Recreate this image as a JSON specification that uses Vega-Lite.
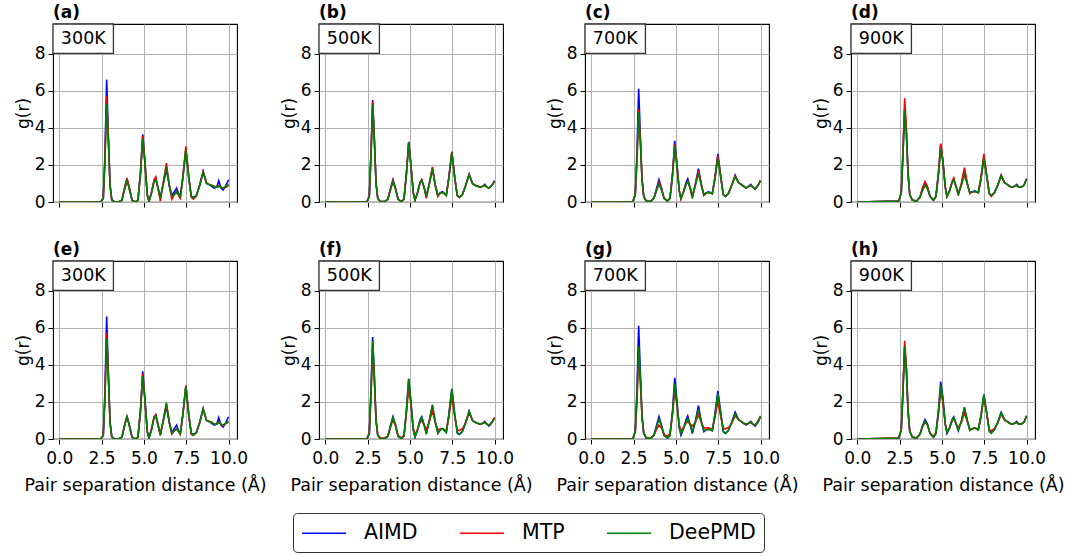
{
  "$schema": "https://vega.github.io/schema/vega-lite/v6.json",
  "background": "white",
  "padding": {"left": 13, "top": 4, "right": 0, "bottom": 5},
  "spacing": 30,
  "data": {"name": "rdf"},
  "datasets": {
    "rdf": [
      {"p":"a","T":"300K"},{"p":"b","T":"500K"},{"p":"c","T":"700K"},{"p":"d","T":"900K"},
      {"p":"e","T":"300K"},{"p":"f","T":"500K"},{"p":"g","T":"700K"},{"p":"h","T":"900K"},

      {"p":"a","r":0,"AIMD":0,"MTP":0,"DeePMD":0},
      {"p":"a","r":2.45,"AIMD":0,"MTP":0,"DeePMD":0},
      {"p":"a","r":2.6,"AIMD":0.2,"MTP":0.2,"DeePMD":0.2},
      {"p":"a","r":2.7,"AIMD":2.6,"MTP":2.3,"DeePMD":2.2},
      {"p":"a","r":2.8,"AIMD":6.6,"MTP":5.7,"DeePMD":5.3},
      {"p":"a","r":2.9,"AIMD":3.6,"MTP":3.4,"DeePMD":3.3},
      {"p":"a","r":3.0,"AIMD":0.9,"MTP":0.9,"DeePMD":0.9},
      {"p":"a","r":3.1,"AIMD":0.15,"MTP":0.1,"DeePMD":0.1},
      {"p":"a","r":3.25,"AIMD":0.02,"MTP":0,"DeePMD":0},
      {"p":"a","r":3.5,"AIMD":0,"MTP":0,"DeePMD":0},
      {"p":"a","r":3.7,"AIMD":0.1,"MTP":0.1,"DeePMD":0.1},
      {"p":"a","r":3.85,"AIMD":0.7,"MTP":0.75,"DeePMD":0.65},
      {"p":"a","r":4.0,"AIMD":1.25,"MTP":1.3,"DeePMD":1.15},
      {"p":"a","r":4.15,"AIMD":0.7,"MTP":0.75,"DeePMD":0.65},
      {"p":"a","r":4.3,"AIMD":0.1,"MTP":0.1,"DeePMD":0.1},
      {"p":"a","r":4.5,"AIMD":0,"MTP":0,"DeePMD":0},
      {"p":"a","r":4.65,"AIMD":0.1,"MTP":0.1,"DeePMD":0.1},
      {"p":"a","r":4.8,"AIMD":1.6,"MTP":1.6,"DeePMD":1.5},
      {"p":"a","r":4.93,"AIMD":3.65,"MTP":3.55,"DeePMD":3.4},
      {"p":"a","r":5.05,"AIMD":2.3,"MTP":2.3,"DeePMD":2.2},
      {"p":"a","r":5.2,"AIMD":0.4,"MTP":0.35,"DeePMD":0.4},
      {"p":"a","r":5.3,"AIMD":0.05,"MTP":0,"DeePMD":0.05},
      {"p":"a","r":5.45,"AIMD":0.5,"MTP":0.5,"DeePMD":0.5},
      {"p":"a","r":5.6,"AIMD":1.15,"MTP":1.2,"DeePMD":1.1},
      {"p":"a","r":5.7,"AIMD":1.3,"MTP":1.35,"DeePMD":1.2},
      {"p":"a","r":5.85,"AIMD":0.7,"MTP":0.65,"DeePMD":0.7},
      {"p":"a","r":5.97,"AIMD":0.25,"MTP":0.05,"DeePMD":0.2},
      {"p":"a","r":6.15,"AIMD":1.0,"MTP":1.1,"DeePMD":1.0},
      {"p":"a","r":6.33,"AIMD":1.75,"MTP":2.1,"DeePMD":1.9},
      {"p":"a","r":6.5,"AIMD":0.9,"MTP":0.9,"DeePMD":0.9},
      {"p":"a","r":6.65,"AIMD":0.35,"MTP":0.15,"DeePMD":0.3},
      {"p":"a","r":6.8,"AIMD":0.55,"MTP":0.4,"DeePMD":0.4},
      {"p":"a","r":6.93,"AIMD":0.75,"MTP":0.6,"DeePMD":0.55},
      {"p":"a","r":7.05,"AIMD":0.45,"MTP":0.35,"DeePMD":0.4},
      {"p":"a","r":7.15,"AIMD":0.3,"MTP":0.2,"DeePMD":0.3},
      {"p":"a","r":7.3,"AIMD":1.3,"MTP":1.35,"DeePMD":1.3},
      {"p":"a","r":7.48,"AIMD":2.85,"MTP":3.0,"DeePMD":2.8},
      {"p":"a","r":7.65,"AIMD":1.3,"MTP":1.35,"DeePMD":1.3},
      {"p":"a","r":7.8,"AIMD":0.3,"MTP":0.25,"DeePMD":0.3},
      {"p":"a","r":7.92,"AIMD":0.25,"MTP":0.15,"DeePMD":0.2},
      {"p":"a","r":8.1,"AIMD":0.35,"MTP":0.3,"DeePMD":0.35},
      {"p":"a","r":8.3,"AIMD":0.9,"MTP":0.95,"DeePMD":0.9},
      {"p":"a","r":8.5,"AIMD":1.65,"MTP":1.65,"DeePMD":1.6},
      {"p":"a","r":8.7,"AIMD":1.0,"MTP":1.05,"DeePMD":1.0},
      {"p":"a","r":8.85,"AIMD":0.95,"MTP":0.95,"DeePMD":0.95},
      {"p":"a","r":9.0,"AIMD":0.85,"MTP":0.9,"DeePMD":0.9},
      {"p":"a","r":9.15,"AIMD":0.75,"MTP":0.85,"DeePMD":0.8},
      {"p":"a","r":9.3,"AIMD":0.8,"MTP":0.8,"DeePMD":0.8},
      {"p":"a","r":9.42,"AIMD":1.15,"MTP":0.85,"DeePMD":0.85},
      {"p":"a","r":9.55,"AIMD":0.75,"MTP":0.8,"DeePMD":0.8},
      {"p":"a","r":9.68,"AIMD":0.65,"MTP":0.75,"DeePMD":0.75},
      {"p":"a","r":9.85,"AIMD":0.9,"MTP":0.8,"DeePMD":0.85},
      {"p":"a","r":10.0,"AIMD":1.2,"MTP":0.9,"DeePMD":0.95},

      {"p":"e","r":0,"AIMD":0,"MTP":0,"DeePMD":0},
      {"p":"e","r":2.45,"AIMD":0,"MTP":0,"DeePMD":0},
      {"p":"e","r":2.6,"AIMD":0.2,"MTP":0.2,"DeePMD":0.2},
      {"p":"e","r":2.7,"AIMD":2.6,"MTP":2.3,"DeePMD":2.2},
      {"p":"e","r":2.8,"AIMD":6.6,"MTP":5.7,"DeePMD":5.4},
      {"p":"e","r":2.9,"AIMD":3.6,"MTP":3.4,"DeePMD":3.3},
      {"p":"e","r":3.0,"AIMD":0.9,"MTP":0.9,"DeePMD":0.9},
      {"p":"e","r":3.1,"AIMD":0.15,"MTP":0.1,"DeePMD":0.1},
      {"p":"e","r":3.25,"AIMD":0.02,"MTP":0,"DeePMD":0},
      {"p":"e","r":3.5,"AIMD":0,"MTP":0,"DeePMD":0},
      {"p":"e","r":3.7,"AIMD":0.1,"MTP":0.1,"DeePMD":0.1},
      {"p":"e","r":3.85,"AIMD":0.7,"MTP":0.7,"DeePMD":0.7},
      {"p":"e","r":4.0,"AIMD":1.25,"MTP":1.2,"DeePMD":1.2},
      {"p":"e","r":4.15,"AIMD":0.7,"MTP":0.7,"DeePMD":0.7},
      {"p":"e","r":4.3,"AIMD":0.1,"MTP":0.1,"DeePMD":0.1},
      {"p":"e","r":4.5,"AIMD":0,"MTP":0,"DeePMD":0},
      {"p":"e","r":4.65,"AIMD":0.1,"MTP":0.1,"DeePMD":0.1},
      {"p":"e","r":4.8,"AIMD":1.6,"MTP":1.55,"DeePMD":1.5},
      {"p":"e","r":4.93,"AIMD":3.65,"MTP":3.5,"DeePMD":3.4},
      {"p":"e","r":5.05,"AIMD":2.3,"MTP":2.25,"DeePMD":2.2},
      {"p":"e","r":5.2,"AIMD":0.4,"MTP":0.4,"DeePMD":0.4},
      {"p":"e","r":5.3,"AIMD":0.05,"MTP":0.05,"DeePMD":0.05},
      {"p":"e","r":5.45,"AIMD":0.5,"MTP":0.55,"DeePMD":0.5},
      {"p":"e","r":5.6,"AIMD":1.15,"MTP":1.2,"DeePMD":1.15},
      {"p":"e","r":5.7,"AIMD":1.3,"MTP":1.3,"DeePMD":1.25},
      {"p":"e","r":5.85,"AIMD":0.7,"MTP":0.7,"DeePMD":0.7},
      {"p":"e","r":5.97,"AIMD":0.25,"MTP":0.2,"DeePMD":0.2},
      {"p":"e","r":6.15,"AIMD":1.0,"MTP":1.05,"DeePMD":1.05},
      {"p":"e","r":6.33,"AIMD":1.75,"MTP":1.9,"DeePMD":1.95},
      {"p":"e","r":6.5,"AIMD":0.9,"MTP":0.9,"DeePMD":0.9},
      {"p":"e","r":6.65,"AIMD":0.35,"MTP":0.25,"DeePMD":0.3},
      {"p":"e","r":6.8,"AIMD":0.55,"MTP":0.45,"DeePMD":0.45},
      {"p":"e","r":6.93,"AIMD":0.75,"MTP":0.55,"DeePMD":0.55},
      {"p":"e","r":7.05,"AIMD":0.45,"MTP":0.4,"DeePMD":0.4},
      {"p":"e","r":7.15,"AIMD":0.3,"MTP":0.25,"DeePMD":0.3},
      {"p":"e","r":7.3,"AIMD":1.3,"MTP":1.3,"DeePMD":1.3},
      {"p":"e","r":7.48,"AIMD":2.85,"MTP":2.9,"DeePMD":2.85},
      {"p":"e","r":7.65,"AIMD":1.3,"MTP":1.3,"DeePMD":1.3},
      {"p":"e","r":7.8,"AIMD":0.3,"MTP":0.25,"DeePMD":0.3},
      {"p":"e","r":7.92,"AIMD":0.25,"MTP":0.2,"DeePMD":0.2},
      {"p":"e","r":8.1,"AIMD":0.35,"MTP":0.35,"DeePMD":0.35},
      {"p":"e","r":8.3,"AIMD":0.9,"MTP":0.9,"DeePMD":0.9},
      {"p":"e","r":8.5,"AIMD":1.65,"MTP":1.6,"DeePMD":1.6},
      {"p":"e","r":8.7,"AIMD":1.0,"MTP":1.0,"DeePMD":1.0},
      {"p":"e","r":8.85,"AIMD":0.95,"MTP":0.95,"DeePMD":0.95},
      {"p":"e","r":9.0,"AIMD":0.85,"MTP":0.9,"DeePMD":0.9},
      {"p":"e","r":9.15,"AIMD":0.75,"MTP":0.8,"DeePMD":0.8},
      {"p":"e","r":9.3,"AIMD":0.8,"MTP":0.8,"DeePMD":0.8},
      {"p":"e","r":9.42,"AIMD":1.15,"MTP":0.9,"DeePMD":0.9},
      {"p":"e","r":9.55,"AIMD":0.75,"MTP":0.8,"DeePMD":0.8},
      {"p":"e","r":9.68,"AIMD":0.65,"MTP":0.7,"DeePMD":0.75},
      {"p":"e","r":9.85,"AIMD":0.9,"MTP":0.85,"DeePMD":0.85},
      {"p":"e","r":10.0,"AIMD":1.2,"MTP":0.9,"DeePMD":0.95},

      {"p":"b","r":0,"AIMD":0,"MTP":0,"DeePMD":0},
      {"p":"b","r":2.45,"AIMD":0,"MTP":0,"DeePMD":0},
      {"p":"b","r":2.6,"AIMD":0.3,"MTP":0.3,"DeePMD":0.3},
      {"p":"b","r":2.7,"AIMD":2.6,"MTP":2.5,"DeePMD":2.4},
      {"p":"b","r":2.8,"AIMD":5.5,"MTP":5.4,"DeePMD":5.25},
      {"p":"b","r":2.9,"AIMD":3.4,"MTP":3.4,"DeePMD":3.3},
      {"p":"b","r":3.0,"AIMD":1.0,"MTP":1.0,"DeePMD":1.0},
      {"p":"b","r":3.1,"AIMD":0.2,"MTP":0.2,"DeePMD":0.2},
      {"p":"b","r":3.25,"AIMD":0.02,"MTP":0.02,"DeePMD":0.02},
      {"p":"b","r":3.5,"AIMD":0.02,"MTP":0.02,"DeePMD":0.02},
      {"p":"b","r":3.7,"AIMD":0.15,"MTP":0.15,"DeePMD":0.15},
      {"p":"b","r":3.85,"AIMD":0.7,"MTP":0.7,"DeePMD":0.65},
      {"p":"b","r":4.0,"AIMD":1.2,"MTP":1.15,"DeePMD":1.1},
      {"p":"b","r":4.15,"AIMD":0.75,"MTP":0.7,"DeePMD":0.7},
      {"p":"b","r":4.3,"AIMD":0.15,"MTP":0.15,"DeePMD":0.15},
      {"p":"b","r":4.5,"AIMD":0.02,"MTP":0.02,"DeePMD":0.02},
      {"p":"b","r":4.65,"AIMD":0.15,"MTP":0.15,"DeePMD":0.15},
      {"p":"b","r":4.8,"AIMD":1.6,"MTP":1.6,"DeePMD":1.55},
      {"p":"b","r":4.93,"AIMD":3.25,"MTP":3.2,"DeePMD":3.2},
      {"p":"b","r":5.05,"AIMD":2.1,"MTP":2.1,"DeePMD":2.1},
      {"p":"b","r":5.2,"AIMD":0.5,"MTP":0.5,"DeePMD":0.5},
      {"p":"b","r":5.3,"AIMD":0.1,"MTP":0.1,"DeePMD":0.1},
      {"p":"b","r":5.45,"AIMD":0.5,"MTP":0.5,"DeePMD":0.5},
      {"p":"b","r":5.6,"AIMD":1.05,"MTP":1.05,"DeePMD":1.05},
      {"p":"b","r":5.7,"AIMD":1.2,"MTP":1.2,"DeePMD":1.15},
      {"p":"b","r":5.85,"AIMD":0.75,"MTP":0.75,"DeePMD":0.75},
      {"p":"b","r":5.97,"AIMD":0.3,"MTP":0.2,"DeePMD":0.3},
      {"p":"b","r":6.15,"AIMD":1.0,"MTP":1.0,"DeePMD":1.0},
      {"p":"b","r":6.33,"AIMD":1.8,"MTP":1.9,"DeePMD":1.8},
      {"p":"b","r":6.5,"AIMD":0.9,"MTP":0.9,"DeePMD":0.9},
      {"p":"b","r":6.65,"AIMD":0.35,"MTP":0.3,"DeePMD":0.35},
      {"p":"b","r":6.8,"AIMD":0.5,"MTP":0.5,"DeePMD":0.5},
      {"p":"b","r":6.93,"AIMD":0.55,"MTP":0.5,"DeePMD":0.5},
      {"p":"b","r":7.05,"AIMD":0.45,"MTP":0.45,"DeePMD":0.45},
      {"p":"b","r":7.15,"AIMD":0.35,"MTP":0.35,"DeePMD":0.35},
      {"p":"b","r":7.3,"AIMD":1.3,"MTP":1.3,"DeePMD":1.3},
      {"p":"b","r":7.48,"AIMD":2.7,"MTP":2.7,"DeePMD":2.65},
      {"p":"b","r":7.65,"AIMD":1.3,"MTP":1.3,"DeePMD":1.3},
      {"p":"b","r":7.8,"AIMD":0.35,"MTP":0.35,"DeePMD":0.35},
      {"p":"b","r":7.92,"AIMD":0.25,"MTP":0.25,"DeePMD":0.25},
      {"p":"b","r":8.1,"AIMD":0.4,"MTP":0.4,"DeePMD":0.4},
      {"p":"b","r":8.3,"AIMD":0.9,"MTP":0.9,"DeePMD":0.9},
      {"p":"b","r":8.5,"AIMD":1.5,"MTP":1.5,"DeePMD":1.45},
      {"p":"b","r":8.7,"AIMD":1.0,"MTP":1.0,"DeePMD":1.0},
      {"p":"b","r":8.85,"AIMD":0.9,"MTP":0.9,"DeePMD":0.9},
      {"p":"b","r":9.0,"AIMD":0.85,"MTP":0.85,"DeePMD":0.85},
      {"p":"b","r":9.15,"AIMD":0.8,"MTP":0.8,"DeePMD":0.8},
      {"p":"b","r":9.3,"AIMD":0.85,"MTP":0.85,"DeePMD":0.85},
      {"p":"b","r":9.42,"AIMD":0.95,"MTP":0.9,"DeePMD":0.9},
      {"p":"b","r":9.55,"AIMD":0.8,"MTP":0.8,"DeePMD":0.8},
      {"p":"b","r":9.68,"AIMD":0.75,"MTP":0.75,"DeePMD":0.75},
      {"p":"b","r":9.85,"AIMD":0.9,"MTP":0.9,"DeePMD":0.9},
      {"p":"b","r":10.0,"AIMD":1.15,"MTP":1.1,"DeePMD":1.1},

      {"p":"f","r":0,"AIMD":0,"MTP":0,"DeePMD":0},
      {"p":"f","r":2.45,"AIMD":0,"MTP":0,"DeePMD":0},
      {"p":"f","r":2.6,"AIMD":0.3,"MTP":0.3,"DeePMD":0.3},
      {"p":"f","r":2.7,"AIMD":2.6,"MTP":2.3,"DeePMD":2.5},
      {"p":"f","r":2.8,"AIMD":5.5,"MTP":4.8,"DeePMD":5.3},
      {"p":"f","r":2.9,"AIMD":3.4,"MTP":3.1,"DeePMD":3.4},
      {"p":"f","r":3.0,"AIMD":1.0,"MTP":1.0,"DeePMD":1.0},
      {"p":"f","r":3.1,"AIMD":0.2,"MTP":0.25,"DeePMD":0.2},
      {"p":"f","r":3.25,"AIMD":0.02,"MTP":0.05,"DeePMD":0.02},
      {"p":"f","r":3.5,"AIMD":0.02,"MTP":0.05,"DeePMD":0.02},
      {"p":"f","r":3.7,"AIMD":0.15,"MTP":0.15,"DeePMD":0.15},
      {"p":"f","r":3.85,"AIMD":0.7,"MTP":0.6,"DeePMD":0.7},
      {"p":"f","r":4.0,"AIMD":1.2,"MTP":1.05,"DeePMD":1.15},
      {"p":"f","r":4.15,"AIMD":0.75,"MTP":0.7,"DeePMD":0.75},
      {"p":"f","r":4.3,"AIMD":0.15,"MTP":0.2,"DeePMD":0.15},
      {"p":"f","r":4.5,"AIMD":0.02,"MTP":0.05,"DeePMD":0.02},
      {"p":"f","r":4.65,"AIMD":0.15,"MTP":0.2,"DeePMD":0.15},
      {"p":"f","r":4.8,"AIMD":1.6,"MTP":1.4,"DeePMD":1.6},
      {"p":"f","r":4.93,"AIMD":3.25,"MTP":2.85,"DeePMD":3.25},
      {"p":"f","r":5.05,"AIMD":2.1,"MTP":1.9,"DeePMD":2.1},
      {"p":"f","r":5.2,"AIMD":0.5,"MTP":0.6,"DeePMD":0.5},
      {"p":"f","r":5.3,"AIMD":0.1,"MTP":0.25,"DeePMD":0.1},
      {"p":"f","r":5.45,"AIMD":0.5,"MTP":0.5,"DeePMD":0.5},
      {"p":"f","r":5.6,"AIMD":1.05,"MTP":0.9,"DeePMD":1.0},
      {"p":"f","r":5.7,"AIMD":1.2,"MTP":1.0,"DeePMD":1.15},
      {"p":"f","r":5.85,"AIMD":0.75,"MTP":0.75,"DeePMD":0.7},
      {"p":"f","r":5.97,"AIMD":0.3,"MTP":0.5,"DeePMD":0.25},
      {"p":"f","r":6.15,"AIMD":1.0,"MTP":0.95,"DeePMD":1.0},
      {"p":"f","r":6.33,"AIMD":1.8,"MTP":1.5,"DeePMD":1.85},
      {"p":"f","r":6.5,"AIMD":0.9,"MTP":0.9,"DeePMD":0.9},
      {"p":"f","r":6.65,"AIMD":0.35,"MTP":0.5,"DeePMD":0.3},
      {"p":"f","r":6.8,"AIMD":0.5,"MTP":0.55,"DeePMD":0.5},
      {"p":"f","r":6.93,"AIMD":0.55,"MTP":0.55,"DeePMD":0.55},
      {"p":"f","r":7.05,"AIMD":0.45,"MTP":0.5,"DeePMD":0.45},
      {"p":"f","r":7.15,"AIMD":0.35,"MTP":0.45,"DeePMD":0.35},
      {"p":"f","r":7.3,"AIMD":1.3,"MTP":1.15,"DeePMD":1.3},
      {"p":"f","r":7.48,"AIMD":2.7,"MTP":2.3,"DeePMD":2.7},
      {"p":"f","r":7.65,"AIMD":1.3,"MTP":1.2,"DeePMD":1.3},
      {"p":"f","r":7.8,"AIMD":0.35,"MTP":0.5,"DeePMD":0.3},
      {"p":"f","r":7.92,"AIMD":0.25,"MTP":0.45,"DeePMD":0.25},
      {"p":"f","r":8.1,"AIMD":0.4,"MTP":0.55,"DeePMD":0.4},
      {"p":"f","r":8.3,"AIMD":0.9,"MTP":0.9,"DeePMD":0.9},
      {"p":"f","r":8.5,"AIMD":1.5,"MTP":1.4,"DeePMD":1.5},
      {"p":"f","r":8.7,"AIMD":1.0,"MTP":1.0,"DeePMD":1.0},
      {"p":"f","r":8.85,"AIMD":0.9,"MTP":0.9,"DeePMD":0.9},
      {"p":"f","r":9.0,"AIMD":0.85,"MTP":0.85,"DeePMD":0.85},
      {"p":"f","r":9.15,"AIMD":0.8,"MTP":0.8,"DeePMD":0.8},
      {"p":"f","r":9.3,"AIMD":0.85,"MTP":0.85,"DeePMD":0.85},
      {"p":"f","r":9.42,"AIMD":0.95,"MTP":0.9,"DeePMD":0.9},
      {"p":"f","r":9.55,"AIMD":0.8,"MTP":0.8,"DeePMD":0.8},
      {"p":"f","r":9.68,"AIMD":0.7,"MTP":0.75,"DeePMD":0.75},
      {"p":"f","r":9.85,"AIMD":0.9,"MTP":0.9,"DeePMD":0.9},
      {"p":"f","r":10.0,"AIMD":1.15,"MTP":1.15,"DeePMD":1.1},

      {"p":"c","r":0,"AIMD":0,"MTP":0,"DeePMD":0},
      {"p":"c","r":2.45,"AIMD":0,"MTP":0,"DeePMD":0},
      {"p":"c","r":2.6,"AIMD":0.4,"MTP":0.4,"DeePMD":0.4},
      {"p":"c","r":2.7,"AIMD":2.7,"MTP":2.3,"DeePMD":2.2},
      {"p":"c","r":2.8,"AIMD":6.1,"MTP":5.0,"DeePMD":4.85},
      {"p":"c","r":2.9,"AIMD":3.6,"MTP":3.3,"DeePMD":3.2},
      {"p":"c","r":3.0,"AIMD":1.2,"MTP":1.2,"DeePMD":1.2},
      {"p":"c","r":3.1,"AIMD":0.3,"MTP":0.3,"DeePMD":0.3},
      {"p":"c","r":3.25,"AIMD":0.05,"MTP":0.05,"DeePMD":0.05},
      {"p":"c","r":3.5,"AIMD":0.02,"MTP":0.02,"DeePMD":0.02},
      {"p":"c","r":3.7,"AIMD":0.2,"MTP":0.2,"DeePMD":0.2},
      {"p":"c","r":3.85,"AIMD":0.7,"MTP":0.65,"DeePMD":0.6},
      {"p":"c","r":4.0,"AIMD":1.2,"MTP":1.05,"DeePMD":0.95},
      {"p":"c","r":4.15,"AIMD":0.75,"MTP":0.7,"DeePMD":0.65},
      {"p":"c","r":4.3,"AIMD":0.2,"MTP":0.2,"DeePMD":0.2},
      {"p":"c","r":4.5,"AIMD":0.05,"MTP":0.05,"DeePMD":0.05},
      {"p":"c","r":4.65,"AIMD":0.2,"MTP":0.2,"DeePMD":0.2},
      {"p":"c","r":4.8,"AIMD":1.5,"MTP":1.45,"DeePMD":1.4},
      {"p":"c","r":4.93,"AIMD":3.3,"MTP":3.1,"DeePMD":3.0},
      {"p":"c","r":5.05,"AIMD":2.2,"MTP":2.1,"DeePMD":2.0},
      {"p":"c","r":5.2,"AIMD":0.6,"MTP":0.6,"DeePMD":0.6},
      {"p":"c","r":5.3,"AIMD":0.2,"MTP":0.15,"DeePMD":0.2},
      {"p":"c","r":5.45,"AIMD":0.55,"MTP":0.55,"DeePMD":0.55},
      {"p":"c","r":5.6,"AIMD":1.05,"MTP":0.95,"DeePMD":0.95},
      {"p":"c","r":5.7,"AIMD":1.25,"MTP":1.1,"DeePMD":1.1},
      {"p":"c","r":5.85,"AIMD":0.75,"MTP":0.7,"DeePMD":0.75},
      {"p":"c","r":5.97,"AIMD":0.3,"MTP":0.2,"DeePMD":0.3},
      {"p":"c","r":6.15,"AIMD":0.95,"MTP":0.95,"DeePMD":0.9},
      {"p":"c","r":6.33,"AIMD":1.8,"MTP":1.7,"DeePMD":1.55},
      {"p":"c","r":6.5,"AIMD":0.95,"MTP":0.95,"DeePMD":0.9},
      {"p":"c","r":6.65,"AIMD":0.4,"MTP":0.35,"DeePMD":0.4},
      {"p":"c","r":6.8,"AIMD":0.5,"MTP":0.5,"DeePMD":0.5},
      {"p":"c","r":6.93,"AIMD":0.55,"MTP":0.5,"DeePMD":0.5},
      {"p":"c","r":7.05,"AIMD":0.5,"MTP":0.5,"DeePMD":0.5},
      {"p":"c","r":7.15,"AIMD":0.45,"MTP":0.45,"DeePMD":0.45},
      {"p":"c","r":7.3,"AIMD":1.3,"MTP":1.25,"DeePMD":1.2},
      {"p":"c","r":7.48,"AIMD":2.6,"MTP":2.5,"DeePMD":2.35},
      {"p":"c","r":7.65,"AIMD":1.4,"MTP":1.35,"DeePMD":1.3},
      {"p":"c","r":7.8,"AIMD":0.4,"MTP":0.4,"DeePMD":0.4},
      {"p":"c","r":7.92,"AIMD":0.3,"MTP":0.3,"DeePMD":0.3},
      {"p":"c","r":8.1,"AIMD":0.45,"MTP":0.45,"DeePMD":0.45},
      {"p":"c","r":8.3,"AIMD":0.9,"MTP":0.9,"DeePMD":0.9},
      {"p":"c","r":8.5,"AIMD":1.45,"MTP":1.4,"DeePMD":1.35},
      {"p":"c","r":8.7,"AIMD":1.05,"MTP":1.05,"DeePMD":1.05},
      {"p":"c","r":8.85,"AIMD":0.95,"MTP":0.95,"DeePMD":0.95},
      {"p":"c","r":9.0,"AIMD":0.85,"MTP":0.85,"DeePMD":0.85},
      {"p":"c","r":9.15,"AIMD":0.75,"MTP":0.75,"DeePMD":0.75},
      {"p":"c","r":9.3,"AIMD":0.85,"MTP":0.85,"DeePMD":0.85},
      {"p":"c","r":9.42,"AIMD":0.95,"MTP":0.9,"DeePMD":0.9},
      {"p":"c","r":9.55,"AIMD":0.8,"MTP":0.8,"DeePMD":0.8},
      {"p":"c","r":9.68,"AIMD":0.7,"MTP":0.7,"DeePMD":0.7},
      {"p":"c","r":9.85,"AIMD":0.9,"MTP":0.9,"DeePMD":0.9},
      {"p":"c","r":10.0,"AIMD":1.15,"MTP":1.15,"DeePMD":1.15},

      {"p":"g","r":0,"AIMD":0,"MTP":0,"DeePMD":0},
      {"p":"g","r":2.45,"AIMD":0,"MTP":0,"DeePMD":0},
      {"p":"g","r":2.6,"AIMD":0.4,"MTP":0.4,"DeePMD":0.4},
      {"p":"g","r":2.7,"AIMD":2.7,"MTP":2.0,"DeePMD":2.3},
      {"p":"g","r":2.8,"AIMD":6.1,"MTP":4.4,"DeePMD":5.0},
      {"p":"g","r":2.9,"AIMD":3.6,"MTP":3.0,"DeePMD":3.3},
      {"p":"g","r":3.0,"AIMD":1.2,"MTP":1.2,"DeePMD":1.2},
      {"p":"g","r":3.1,"AIMD":0.3,"MTP":0.35,"DeePMD":0.3},
      {"p":"g","r":3.25,"AIMD":0.05,"MTP":0.05,"DeePMD":0.05},
      {"p":"g","r":3.5,"AIMD":0.02,"MTP":0.05,"DeePMD":0.02},
      {"p":"g","r":3.7,"AIMD":0.2,"MTP":0.2,"DeePMD":0.2},
      {"p":"g","r":3.85,"AIMD":0.7,"MTP":0.5,"DeePMD":0.65},
      {"p":"g","r":4.0,"AIMD":1.2,"MTP":0.75,"DeePMD":1.05},
      {"p":"g","r":4.15,"AIMD":0.75,"MTP":0.6,"DeePMD":0.7},
      {"p":"g","r":4.3,"AIMD":0.2,"MTP":0.25,"DeePMD":0.2},
      {"p":"g","r":4.5,"AIMD":0.05,"MTP":0.15,"DeePMD":0.05},
      {"p":"g","r":4.65,"AIMD":0.2,"MTP":0.3,"DeePMD":0.2},
      {"p":"g","r":4.8,"AIMD":1.5,"MTP":1.3,"DeePMD":1.4},
      {"p":"g","r":4.93,"AIMD":3.3,"MTP":2.6,"DeePMD":3.0},
      {"p":"g","r":5.05,"AIMD":2.2,"MTP":1.9,"DeePMD":2.0},
      {"p":"g","r":5.2,"AIMD":0.6,"MTP":0.75,"DeePMD":0.6},
      {"p":"g","r":5.3,"AIMD":0.2,"MTP":0.45,"DeePMD":0.3},
      {"p":"g","r":5.45,"AIMD":0.55,"MTP":0.6,"DeePMD":0.6},
      {"p":"g","r":5.6,"AIMD":1.05,"MTP":0.85,"DeePMD":0.95},
      {"p":"g","r":5.7,"AIMD":1.25,"MTP":0.95,"DeePMD":1.1},
      {"p":"g","r":5.85,"AIMD":0.75,"MTP":0.8,"DeePMD":0.75},
      {"p":"g","r":5.97,"AIMD":0.3,"MTP":0.7,"DeePMD":0.4},
      {"p":"g","r":6.15,"AIMD":0.95,"MTP":0.9,"DeePMD":0.95},
      {"p":"g","r":6.33,"AIMD":1.8,"MTP":1.3,"DeePMD":1.6},
      {"p":"g","r":6.5,"AIMD":0.95,"MTP":0.9,"DeePMD":0.9},
      {"p":"g","r":6.65,"AIMD":0.4,"MTP":0.6,"DeePMD":0.45},
      {"p":"g","r":6.8,"AIMD":0.5,"MTP":0.6,"DeePMD":0.5},
      {"p":"g","r":6.93,"AIMD":0.55,"MTP":0.6,"DeePMD":0.5},
      {"p":"g","r":7.05,"AIMD":0.5,"MTP":0.55,"DeePMD":0.5},
      {"p":"g","r":7.15,"AIMD":0.45,"MTP":0.55,"DeePMD":0.45},
      {"p":"g","r":7.3,"AIMD":1.3,"MTP":1.1,"DeePMD":1.25},
      {"p":"g","r":7.48,"AIMD":2.6,"MTP":2.05,"DeePMD":2.45},
      {"p":"g","r":7.65,"AIMD":1.4,"MTP":1.2,"DeePMD":1.35},
      {"p":"g","r":7.8,"AIMD":0.4,"MTP":0.6,"DeePMD":0.4},
      {"p":"g","r":7.92,"AIMD":0.3,"MTP":0.55,"DeePMD":0.3},
      {"p":"g","r":8.1,"AIMD":0.45,"MTP":0.6,"DeePMD":0.45},
      {"p":"g","r":8.3,"AIMD":0.9,"MTP":0.85,"DeePMD":0.9},
      {"p":"g","r":8.5,"AIMD":1.45,"MTP":1.25,"DeePMD":1.35},
      {"p":"g","r":8.7,"AIMD":1.05,"MTP":1.05,"DeePMD":1.05},
      {"p":"g","r":8.85,"AIMD":0.95,"MTP":0.95,"DeePMD":0.95},
      {"p":"g","r":9.0,"AIMD":0.85,"MTP":0.85,"DeePMD":0.85},
      {"p":"g","r":9.15,"AIMD":0.75,"MTP":0.8,"DeePMD":0.8},
      {"p":"g","r":9.3,"AIMD":0.85,"MTP":0.85,"DeePMD":0.85},
      {"p":"g","r":9.42,"AIMD":0.95,"MTP":0.9,"DeePMD":0.9},
      {"p":"g","r":9.55,"AIMD":0.8,"MTP":0.8,"DeePMD":0.8},
      {"p":"g","r":9.68,"AIMD":0.7,"MTP":0.75,"DeePMD":0.75},
      {"p":"g","r":9.85,"AIMD":0.9,"MTP":0.95,"DeePMD":0.95},
      {"p":"g","r":10.0,"AIMD":1.2,"MTP":1.2,"DeePMD":1.25},

      {"p":"d","r":0,"AIMD":0,"MTP":0,"DeePMD":0},
      {"p":"d","r":2.45,"AIMD":0.05,"MTP":0.05,"DeePMD":0.05},
      {"p":"d","r":2.6,"AIMD":0.5,"MTP":0.5,"DeePMD":0.5},
      {"p":"d","r":2.7,"AIMD":2.6,"MTP":2.8,"DeePMD":2.5},
      {"p":"d","r":2.8,"AIMD":5.0,"MTP":5.6,"DeePMD":4.95},
      {"p":"d","r":2.9,"AIMD":3.8,"MTP":4.0,"DeePMD":3.7},
      {"p":"d","r":3.0,"AIMD":1.5,"MTP":1.6,"DeePMD":1.5},
      {"p":"d","r":3.1,"AIMD":0.4,"MTP":0.4,"DeePMD":0.4},
      {"p":"d","r":3.25,"AIMD":0.1,"MTP":0.1,"DeePMD":0.1},
      {"p":"d","r":3.5,"AIMD":0.05,"MTP":0.05,"DeePMD":0.05},
      {"p":"d","r":3.7,"AIMD":0.25,"MTP":0.25,"DeePMD":0.25},
      {"p":"d","r":3.85,"AIMD":0.7,"MTP":0.75,"DeePMD":0.6},
      {"p":"d","r":4.0,"AIMD":1.05,"MTP":1.1,"DeePMD":0.9},
      {"p":"d","r":4.15,"AIMD":0.8,"MTP":0.8,"DeePMD":0.7},
      {"p":"d","r":4.3,"AIMD":0.3,"MTP":0.3,"DeePMD":0.3},
      {"p":"d","r":4.5,"AIMD":0.1,"MTP":0.1,"DeePMD":0.1},
      {"p":"d","r":4.65,"AIMD":0.3,"MTP":0.3,"DeePMD":0.3},
      {"p":"d","r":4.8,"AIMD":1.6,"MTP":1.6,"DeePMD":1.5},
      {"p":"d","r":4.93,"AIMD":3.1,"MTP":3.15,"DeePMD":2.85},
      {"p":"d","r":5.05,"AIMD":2.3,"MTP":2.3,"DeePMD":2.2},
      {"p":"d","r":5.2,"AIMD":0.8,"MTP":0.8,"DeePMD":0.8},
      {"p":"d","r":5.3,"AIMD":0.3,"MTP":0.3,"DeePMD":0.3},
      {"p":"d","r":5.45,"AIMD":0.6,"MTP":0.6,"DeePMD":0.6},
      {"p":"d","r":5.6,"AIMD":1.05,"MTP":1.1,"DeePMD":1.05},
      {"p":"d","r":5.7,"AIMD":1.2,"MTP":1.3,"DeePMD":1.2},
      {"p":"d","r":5.85,"AIMD":0.8,"MTP":0.8,"DeePMD":0.8},
      {"p":"d","r":5.97,"AIMD":0.45,"MTP":0.35,"DeePMD":0.45},
      {"p":"d","r":6.15,"AIMD":0.95,"MTP":1.0,"DeePMD":0.9},
      {"p":"d","r":6.33,"AIMD":1.7,"MTP":1.85,"DeePMD":1.45},
      {"p":"d","r":6.5,"AIMD":1.0,"MTP":1.0,"DeePMD":0.95},
      {"p":"d","r":6.65,"AIMD":0.5,"MTP":0.45,"DeePMD":0.5},
      {"p":"d","r":6.8,"AIMD":0.55,"MTP":0.55,"DeePMD":0.55},
      {"p":"d","r":6.93,"AIMD":0.6,"MTP":0.55,"DeePMD":0.55},
      {"p":"d","r":7.05,"AIMD":0.55,"MTP":0.55,"DeePMD":0.55},
      {"p":"d","r":7.15,"AIMD":0.5,"MTP":0.5,"DeePMD":0.5},
      {"p":"d","r":7.3,"AIMD":1.2,"MTP":1.3,"DeePMD":1.2},
      {"p":"d","r":7.48,"AIMD":2.4,"MTP":2.6,"DeePMD":2.35},
      {"p":"d","r":7.65,"AIMD":1.4,"MTP":1.45,"DeePMD":1.35},
      {"p":"d","r":7.8,"AIMD":0.45,"MTP":0.45,"DeePMD":0.45},
      {"p":"d","r":7.92,"AIMD":0.35,"MTP":0.3,"DeePMD":0.35},
      {"p":"d","r":8.1,"AIMD":0.5,"MTP":0.5,"DeePMD":0.5},
      {"p":"d","r":8.3,"AIMD":0.9,"MTP":0.9,"DeePMD":0.9},
      {"p":"d","r":8.5,"AIMD":1.45,"MTP":1.45,"DeePMD":1.4},
      {"p":"d","r":8.7,"AIMD":1.05,"MTP":1.05,"DeePMD":1.05},
      {"p":"d","r":8.85,"AIMD":0.95,"MTP":0.95,"DeePMD":0.95},
      {"p":"d","r":9.0,"AIMD":0.85,"MTP":0.85,"DeePMD":0.85},
      {"p":"d","r":9.15,"AIMD":0.8,"MTP":0.8,"DeePMD":0.8},
      {"p":"d","r":9.3,"AIMD":0.85,"MTP":0.85,"DeePMD":0.85},
      {"p":"d","r":9.42,"AIMD":0.95,"MTP":0.9,"DeePMD":0.9},
      {"p":"d","r":9.55,"AIMD":0.8,"MTP":0.8,"DeePMD":0.8},
      {"p":"d","r":9.68,"AIMD":0.8,"MTP":0.8,"DeePMD":0.8},
      {"p":"d","r":9.85,"AIMD":0.9,"MTP":0.9,"DeePMD":0.9},
      {"p":"d","r":10.0,"AIMD":1.25,"MTP":1.25,"DeePMD":1.25},

      {"p":"h","r":0,"AIMD":0,"MTP":0,"DeePMD":0},
      {"p":"h","r":2.45,"AIMD":0.05,"MTP":0.05,"DeePMD":0.05},
      {"p":"h","r":2.6,"AIMD":0.5,"MTP":0.5,"DeePMD":0.5},
      {"p":"h","r":2.7,"AIMD":2.6,"MTP":2.6,"DeePMD":2.5},
      {"p":"h","r":2.8,"AIMD":5.0,"MTP":5.3,"DeePMD":5.0},
      {"p":"h","r":2.9,"AIMD":3.8,"MTP":3.9,"DeePMD":3.7},
      {"p":"h","r":3.0,"AIMD":1.5,"MTP":1.6,"DeePMD":1.5},
      {"p":"h","r":3.1,"AIMD":0.4,"MTP":0.45,"DeePMD":0.4},
      {"p":"h","r":3.25,"AIMD":0.1,"MTP":0.1,"DeePMD":0.1},
      {"p":"h","r":3.5,"AIMD":0.05,"MTP":0.05,"DeePMD":0.05},
      {"p":"h","r":3.7,"AIMD":0.25,"MTP":0.25,"DeePMD":0.25},
      {"p":"h","r":3.85,"AIMD":0.7,"MTP":0.65,"DeePMD":0.65},
      {"p":"h","r":4.0,"AIMD":1.05,"MTP":0.9,"DeePMD":0.95},
      {"p":"h","r":4.15,"AIMD":0.8,"MTP":0.75,"DeePMD":0.75},
      {"p":"h","r":4.3,"AIMD":0.3,"MTP":0.3,"DeePMD":0.3},
      {"p":"h","r":4.5,"AIMD":0.1,"MTP":0.15,"DeePMD":0.1},
      {"p":"h","r":4.65,"AIMD":0.3,"MTP":0.35,"DeePMD":0.3},
      {"p":"h","r":4.8,"AIMD":1.6,"MTP":1.4,"DeePMD":1.5},
      {"p":"h","r":4.93,"AIMD":3.1,"MTP":2.6,"DeePMD":2.9},
      {"p":"h","r":5.05,"AIMD":2.3,"MTP":2.0,"DeePMD":2.2},
      {"p":"h","r":5.2,"AIMD":0.8,"MTP":0.8,"DeePMD":0.8},
      {"p":"h","r":5.3,"AIMD":0.3,"MTP":0.4,"DeePMD":0.35},
      {"p":"h","r":5.45,"AIMD":0.6,"MTP":0.6,"DeePMD":0.6},
      {"p":"h","r":5.6,"AIMD":1.05,"MTP":0.95,"DeePMD":1.0},
      {"p":"h","r":5.7,"AIMD":1.2,"MTP":1.1,"DeePMD":1.15},
      {"p":"h","r":5.85,"AIMD":0.8,"MTP":0.8,"DeePMD":0.8},
      {"p":"h","r":5.97,"AIMD":0.45,"MTP":0.6,"DeePMD":0.5},
      {"p":"h","r":6.15,"AIMD":0.95,"MTP":0.9,"DeePMD":0.95},
      {"p":"h","r":6.33,"AIMD":1.7,"MTP":1.4,"DeePMD":1.7},
      {"p":"h","r":6.5,"AIMD":1.0,"MTP":0.95,"DeePMD":1.0},
      {"p":"h","r":6.65,"AIMD":0.5,"MTP":0.5,"DeePMD":0.45},
      {"p":"h","r":6.8,"AIMD":0.55,"MTP":0.55,"DeePMD":0.55},
      {"p":"h","r":6.93,"AIMD":0.6,"MTP":0.6,"DeePMD":0.6},
      {"p":"h","r":7.05,"AIMD":0.55,"MTP":0.55,"DeePMD":0.55},
      {"p":"h","r":7.15,"AIMD":0.5,"MTP":0.5,"DeePMD":0.5},
      {"p":"h","r":7.3,"AIMD":1.2,"MTP":1.15,"DeePMD":1.2},
      {"p":"h","r":7.48,"AIMD":2.4,"MTP":2.25,"DeePMD":2.4},
      {"p":"h","r":7.65,"AIMD":1.4,"MTP":1.35,"DeePMD":1.4},
      {"p":"h","r":7.8,"AIMD":0.45,"MTP":0.5,"DeePMD":0.4},
      {"p":"h","r":7.92,"AIMD":0.35,"MTP":0.45,"DeePMD":0.3},
      {"p":"h","r":8.1,"AIMD":0.5,"MTP":0.55,"DeePMD":0.5},
      {"p":"h","r":8.3,"AIMD":0.9,"MTP":0.85,"DeePMD":0.9},
      {"p":"h","r":8.5,"AIMD":1.45,"MTP":1.35,"DeePMD":1.4},
      {"p":"h","r":8.7,"AIMD":1.05,"MTP":1.0,"DeePMD":1.05},
      {"p":"h","r":8.85,"AIMD":0.95,"MTP":0.95,"DeePMD":0.95},
      {"p":"h","r":9.0,"AIMD":0.85,"MTP":0.85,"DeePMD":0.85},
      {"p":"h","r":9.15,"AIMD":0.8,"MTP":0.8,"DeePMD":0.8},
      {"p":"h","r":9.3,"AIMD":0.85,"MTP":0.85,"DeePMD":0.85},
      {"p":"h","r":9.42,"AIMD":0.95,"MTP":0.9,"DeePMD":0.9},
      {"p":"h","r":9.55,"AIMD":0.8,"MTP":0.8,"DeePMD":0.8},
      {"p":"h","r":9.68,"AIMD":0.8,"MTP":0.8,"DeePMD":0.8},
      {"p":"h","r":9.85,"AIMD":0.9,"MTP":0.9,"DeePMD":0.9},
      {"p":"h","r":10.0,"AIMD":1.25,"MTP":1.2,"DeePMD":1.25}
    ]
  },
  "vconcat": [
    {
      "transform": [{"filter": {"field": "p", "oneOf": ["a", "b", "c", "d"]}}],
      "facet": {
        "column": {
          "field": "p", "type": "nominal", "title": null,
          "header": {"labelExpr": "'(' + datum.value + ')'", "labelAnchor": "start", "labelFontWeight": "bold", "labelFontSize": 17, "labelPadding": 2, "labelColor": "black"}
        }
      },
      "spacing": 82,
      "bounds": "flush",
      "resolve": {"axis": {"y": "independent"}},
      "spec": {
        "width": 184,
        "height": 178,
        "layer": [
          {
            "transform": [
              {"filter": "isValid(datum.r)"},
              {"fold": ["AIMD", "MTP", "DeePMD"], "as": ["model", "g"]}
            ],
            "mark": {"type": "line", "strokeWidth": 1.6, "clip": true},
            "encoding": {
              "x": {"field": "r", "type": "quantitative", "scale": {"domain": [-0.37, 10.5], "nice": false, "zero": false},
                    "axis": {"values": [0, 2.5, 5, 7.5, 10], "labels": false, "title": null}},
              "y": {"field": "g", "type": "quantitative", "scale": {"domain": [0, 9.6], "nice": false},
                    "axis": {"values": [0, 2, 4, 6, 8], "title": "g(r)"}},
              "color": {"field": "model", "type": "nominal", "sort": ["AIMD", "MTP", "DeePMD"],
                        "scale": {"domain": ["AIMD", "MTP", "DeePMD"], "range": ["#0000ff", "#ff0000", "#008000"]},
                        "legend": {"title": null, "orient": "none", "legendX": 240, "legendY": 489}}
            }
          },
          {
            "transform": [{"filter": "isValid(datum.T)"}],
            "mark": {"type": "rect", "fill": "white", "stroke": "#333333", "strokeWidth": 1.3},
            "encoding": {
              "x": {"datum": -0.37}, "x2": {"datum": 3.2},
              "y": {"datum": 9.6}, "y2": {"datum": 8.02}
            }
          },
          {
            "transform": [{"filter": "isValid(datum.T)"}],
            "mark": {"type": "text", "fontSize": 17.5, "color": "black", "align": "center", "baseline": "middle"},
            "encoding": {
              "x": {"datum": 1.42}, "y": {"datum": 8.8},
              "text": {"field": "T"}
            }
          }
        ]
      }
    },
    {
      "transform": [{"filter": {"field": "p", "oneOf": ["e", "f", "g", "h"]}}],
      "facet": {
        "column": {
          "field": "p", "type": "nominal", "title": null,
          "header": {"labelExpr": "'(' + datum.value + ')'", "labelAnchor": "start", "labelFontWeight": "bold", "labelFontSize": 17, "labelPadding": 2, "labelColor": "black"}
        }
      },
      "spacing": 82,
      "bounds": "flush",
      "resolve": {"axis": {"y": "independent"}},
      "spec": {
        "width": 184,
        "height": 178,
        "layer": [
          {
            "transform": [
              {"filter": "isValid(datum.r)"},
              {"fold": ["AIMD", "MTP", "DeePMD"], "as": ["model", "g"]}
            ],
            "mark": {"type": "line", "strokeWidth": 1.6, "clip": true},
            "encoding": {
              "x": {"field": "r", "type": "quantitative", "scale": {"domain": [-0.37, 10.5], "nice": false, "zero": false},
                    "axis": {"values": [0, 2.5, 5, 7.5, 10], "format": ".1f", "title": "Pair separation distance (Å)", "titleFontSize": 17.5}},
              "y": {"field": "g", "type": "quantitative", "scale": {"domain": [0, 9.6], "nice": false},
                    "axis": {"values": [0, 2, 4, 6, 8], "title": "g(r)"}},
              "color": {"field": "model", "type": "nominal", "sort": ["AIMD", "MTP", "DeePMD"],
                        "scale": {"domain": ["AIMD", "MTP", "DeePMD"], "range": ["#0000ff", "#ff0000", "#008000"]},
                        "legend": {"title": null, "orient": "none", "legendX": 240, "legendY": 489}}
            }
          },
          {
            "transform": [{"filter": "isValid(datum.T)"}],
            "mark": {"type": "rect", "fill": "white", "stroke": "#333333", "strokeWidth": 1.3},
            "encoding": {
              "x": {"datum": -0.37}, "x2": {"datum": 3.2},
              "y": {"datum": 9.6}, "y2": {"datum": 8.02}
            }
          },
          {
            "transform": [{"filter": "isValid(datum.T)"}],
            "mark": {"type": "text", "fontSize": 17.5, "color": "black", "align": "center", "baseline": "middle"},
            "encoding": {
              "x": {"datum": 1.42}, "y": {"datum": 8.8},
              "text": {"field": "T"}
            }
          }
        ]
      }
    }
  ],
  "config": {
    "font": "DejaVu Sans",
    "view": {"stroke": "black", "strokeWidth": 1.1},
    "axis": {
      "labelFontSize": 17, "titleFontSize": 17, "titleFontWeight": "normal",
      "labelColor": "black", "titleColor": "black",
      "grid": true, "gridColor": "#b0b0b0", "gridWidth": 1,
      "domain": false, "tickColor": "black", "tickSize": 5, "tickWidth": 1
    },
    "axisX": {"labelFlush": false, "labelPadding": 6, "titlePadding": 10},
    "axisY": {"labelPadding": 3, "titlePadding": 2},
    "legend": {
      "direction": "horizontal",
      "symbolType": "M-1,0H3", "symbolSize": 484, "symbolStrokeWidth": 1.6,
      "labelFontSize": 20.5, "labelColor": "black", "labelOffset": 39,
      "columnPadding": 38, "strokeColor": "#333333", "cornerRadius": 4,
      "padding": 8
    }
  }
}
